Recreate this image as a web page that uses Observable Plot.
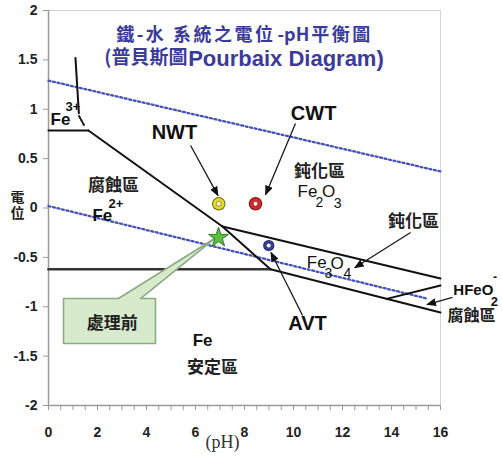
<!DOCTYPE html>
<html><head><meta charset="utf-8">
<script src="https://cdn.jsdelivr.net/npm/d3@7"></script>
<script src="https://cdn.jsdelivr.net/npm/@observablehq/plot@0.6"></script>
<style>
html,body{margin:0;padding:0;background:#fff;}
#chart{width:502px;height:461px;}
</style></head><body><div id="chart"></div>
<script>
// ---- axes ----
const pHTicks = d3.range(0, 16.01, 0.5);           // minor ticks every 0.5, labels every 2
const ETicks = [-2, -1.5, -1, -0.5, 0, 0.5, 1, 1.5, 2];

// ---- stability boundaries (pH, E) ----
const fe3Fe2Line   = [[0, 0.785], [1.63, 0.785]];
const fe2Fe2o3Line = [[1.63, 0.785], [7.10, -0.187]];
const fe2Fe3o4Line = [[7.10, -0.187], [9.06, -0.62]];
const fe2FeLine    = [[0, -0.62], [9.06, -0.62]];
const fe2o3Fe3o4Line = [[7.10, -0.187], [16, -0.714]];
const fe3o4FeLine  = [[9.06, -0.62], [16, -1.058]];
const fe3o4HFeO2Line = [[13.8, -0.92], [16, -0.785]];
const fe3Fe2o3Solid = [[1.10, 1.52], [1.24, 0.96]];
const fe3Fe2o3Dash  = [[1.25, 0.93], [1.45, 0.84]];
const o2WaterLine = [[0, 1.29], [16, 0.37]];
const h2WaterLine = [[0, 0.02], [15.5, -0.92]];

// ---- sample points ----
const sampleNames = ["NWT", "CWT", "AVT"];
const samplePH = [6.95, 8.45, 8.99];
const sampleE  = [0.043, 0.043, -0.38];
const sampleColor = ["#e6d81c", "#d8262b", "#34449a"];
const sampleEdge  = ["#6d6620", "#7a1a1a", "#1e2760"];
const sampleR = [6.8, 6.8, 5.6];
const beforePH = [6.94], beforeE = [-0.30];   // 處理前 (star)

// ---- callout (處理前) ----
const calloutPH = [0.612, 2.857, 6.78, 3.755, 4.367, 4.367, 0.612, 0.612];
const calloutE  = [-0.9165, -0.9165, -0.309, -0.9165, -0.9165, -1.372, -1.372, -0.9165];

// ---- pointer arrows: start -> end ----
const arrowPH1 = [5.80, 10.08, 10.37, 14.78, 16.49];
const arrowE1  = [0.633, 0.856, -1.089, -0.248, -0.906];
const arrowPH2 = [6.92, 8.86, 9.08, 12.50, 15.45];
const arrowE2  = [0.125, 0.135, -0.45, -0.605, -0.978];

// ---- labels ----
const boldLabels = ["NWT", "CWT", "AVT"];
const boldPH = [5.14, 10.82, 10.57];
const boldE  = [0.765, 0.957, -1.17];

const zoneLabels = ["腐蝕區", "鈍化區", "鈍化區", "安定區", "處理前"];
const zonePH = [2.65, 11.06, 14.9, 6.69, 2.6];
const zoneE  = [0.228, 0.37, -0.137, -1.615, -1.175];

const ionFe = ["Fe", "Fe", "Fe"];
const ionFePH = [0.49, 2.2, 6.29];
const ionFeE  = [0.896, -0.076, -1.342];
const ionCharge = ["3+", "2+"];
const ionChargePH = [0.69, 2.45];
const ionChargeE  = [1.028, 0.046];

const formulaMain = ["Fe", "O", "Fe", "O"];
const formulaMainPH = [10.57, 11.43, 10.95, 11.78];
const formulaMainE  = [0.162, 0.162, -0.549, -0.562];
const formulaSub = ["2", "3", "3", "4"];
const formulaSubPH = [11.06, 11.8, 11.42, 12.2];
const formulaSubE  = [0.06, 0.05, -0.665, -0.665];

const hfeParts = ["HFeO", "2", "-"];
const hfePH = [17.34, 18.2, 18.22];
const hfeE  = [-0.83, -0.95, -0.70];
const rightCorrosion = ["腐蝕區"], rcPH = [17.27], rcE = [-1.095];

const title1 = "鐵-水 系統之電位-pH平衡圖";
const title2a = "(普貝斯圖", title2b = "Pourbaix Diagram)";
const yTitle = "電\n位", xTitle = "(pH)";

const latin = '"Liberation Sans", Arial, "Noto Sans CJK TC", sans-serif';
const cjk = '"Noto Sans CJK TC", "Liberation Sans", sans-serif';
const X = d => d[0], Y = d => d[1];
const boundary = (arr, o = {}) => Plot.line(arr, {x: X, y: Y, stroke: "#111", strokeWidth: 2, ...o});
const ARROW = "#1a1a1b";

const svg = Plot.plot({
  width: 502, height: 461,
  marginLeft: 48, marginRight: 62, marginTop: 10, marginBottom: 56,
  x: {domain: [0, 16]},
  y: {domain: [-2, 2]},
  r: {type: "identity"},
  style: {fontFamily: latin, background: "white", overflow: "visible"},
  marks: [
    Plot.frame({stroke: "#d4d4d4"}),
    Plot.axisY(ETicks, {tickSize: 5, tickPadding: 6, fontSize: 14, fontWeight: "bold", stroke: "#999", fill: "#222", tickFormat: d => String(d), label: null}),
    Plot.axisX(pHTicks, {tickSize: 5, tickPadding: 17, fontSize: 14, fontWeight: "bold", stroke: "#999", fill: "#222", tickFormat: d => (d % 2 === 0 ? String(d) : ""), label: null}),
    Plot.ruleX([0], {stroke: "#9a9a9a", strokeWidth: 1.5}),
    Plot.ruleY([-2], {stroke: "#9a9a9a", strokeWidth: 1.5}),
    // water stability lines
    Plot.line(o2WaterLine, {x: X, y: Y, stroke: "#4453b8", strokeWidth: 2.3, strokeDasharray: "2,2.6"}),
    Plot.line(h2WaterLine, {x: X, y: Y, stroke: "#4453b8", strokeWidth: 2.3, strokeDasharray: "2,2.6"}),
    // boundaries
    boundary(fe3Fe2Line),
    boundary(fe2Fe2o3Line),
    boundary(fe2Fe3o4Line),
    boundary(fe2FeLine, {stroke: "#333", strokeWidth: 2.6}),
    boundary(fe2o3Fe3o4Line),
    boundary(fe3o4FeLine),
    boundary(fe3o4HFeO2Line),
    boundary(fe3Fe2o3Solid),
    boundary(fe3Fe2o3Dash, {strokeDasharray: "2,2"}),
    // callout
    Plot.line(calloutPH, {x: calloutPH, y: calloutE, fill: "#d7eacb", stroke: "#8dab82", strokeWidth: 1.6}),
    // arrows
    Plot.link(arrowPH1, {x1: arrowPH1, y1: arrowE1, x2: arrowPH2, y2: arrowE2, stroke: ARROW, strokeWidth: 1.3}),
    // sample rings
    Plot.dot(sampleNames, {x: samplePH, y: sampleE, r: sampleR, fill: sampleEdge}),
    Plot.dot(sampleNames, {x: samplePH, y: sampleE, r: sampleR.map(r => r - 1), fill: sampleColor}),
    Plot.dot(sampleNames, {x: samplePH, y: sampleE, r: 2.4, fill: "white", stroke: sampleEdge, strokeWidth: 0.7}),
    Plot.dot(beforePH, {x: beforePH, y: beforeE, symbol: "star", r: 6.2, fill: "#5cbf3c", stroke: "#2e7a2a", strokeWidth: 1}),
    // labels
    Plot.text(boldLabels, {x: boldPH, y: boldE, fontSize: 20, fontWeight: "bold", fill: "#111"}),
    Plot.text(zoneLabels, {x: zonePH, y: zoneE, fontSize: 17, fontWeight: "bold", fontFamily: cjk, fill: "#222"}),
    Plot.text(ionFe, {x: ionFePH, y: ionFeE, fontSize: 17, fontWeight: "bold", fill: "#111"}),
    Plot.text(ionCharge, {x: ionChargePH, y: ionChargeE, fontSize: 13, fontWeight: "bold", textAnchor: "start", fill: "#111"}),
    Plot.text(formulaMain, {x: formulaMainPH, y: formulaMainE, fontSize: 17, fill: "#111"}),
    Plot.text(formulaSub, {x: formulaSubPH, y: formulaSubE, fontSize: 14, fill: "#111"}),
    Plot.text(hfeParts, {x: hfePH, y: hfeE, fontSize: [15, 13, 12], fontWeight: "bold", fill: "#111"}),
    Plot.text(rightCorrosion, {x: rcPH, y: rcE, fontSize: 16, fontWeight: "bold", fontFamily: cjk, fill: "#222"}),
    // titles
    Plot.text([title1], {x: [8.0], frameAnchor: "top", dy: 17.5, fontSize: 18, fontWeight: "bold", fill: "#3b3b9b", fontFamily: cjk}),
    Plot.text([title2a], {x: [5.67], frameAnchor: "top", dy: 40, fontSize: 19, fontWeight: "bold", fill: "#3b3b9b", fontFamily: cjk, textAnchor: "end"}),
    Plot.text([title2b], {x: [5.7], frameAnchor: "top", dy: 40, fontSize: 22, fontWeight: "bold", fill: "#3b3b9b", textAnchor: "start"}),
    Plot.text([yTitle], {y: [0.035], frameAnchor: "left", dx: -38, fontSize: 14, fontWeight: "bold", lineHeight: 1.15, fontFamily: cjk, fill: "#222"}),
    Plot.text([xTitle], {x: [7.1], frameAnchor: "bottom", dy: 42, fontSize: 18, fontFamily: '"Liberation Serif", serif', fill: "#333"})
  ]
});

// filled arrowheads
const root = d3.select(svg);
const marker = root.insert("defs", ":first-child").append("marker")
  .attr("id", "ahead").attr("viewBox", "0 0 10 8").attr("refX", 9).attr("refY", 4)
  .attr("markerWidth", 10).attr("markerHeight", 8).attr("markerUnits", "userSpaceOnUse").attr("orient", "auto");
marker.append("path").attr("d", "M0,0L10,4L0,8Z").attr("fill", "#111");
root.selectAll("g").filter(function() { return this.getAttribute("stroke") === ARROW; })
  .selectAll("path, line").attr("marker-end", "url(#ahead)");
// title: spaced CJK, tight "-pH"
root.selectAll("text").filter(function() { return this.textContent === title1; }).each(function() {
  const t = d3.select(this);
  t.text(null);
  const parts = [["鐵-水 系統之電位", "2.5px"], ["-pH", "0px"], ["平衡圖", "2.5px"]];
  parts.forEach(([s, ls]) => t.append("tspan").attr("letter-spacing", ls).text(s));
  t.select("tspan:nth-child(2)").attr("dx", "2");
  t.select("tspan:nth-child(3)").attr("dx", "2");
});

document.getElementById("chart").appendChild(svg);
</script>
</body></html>
